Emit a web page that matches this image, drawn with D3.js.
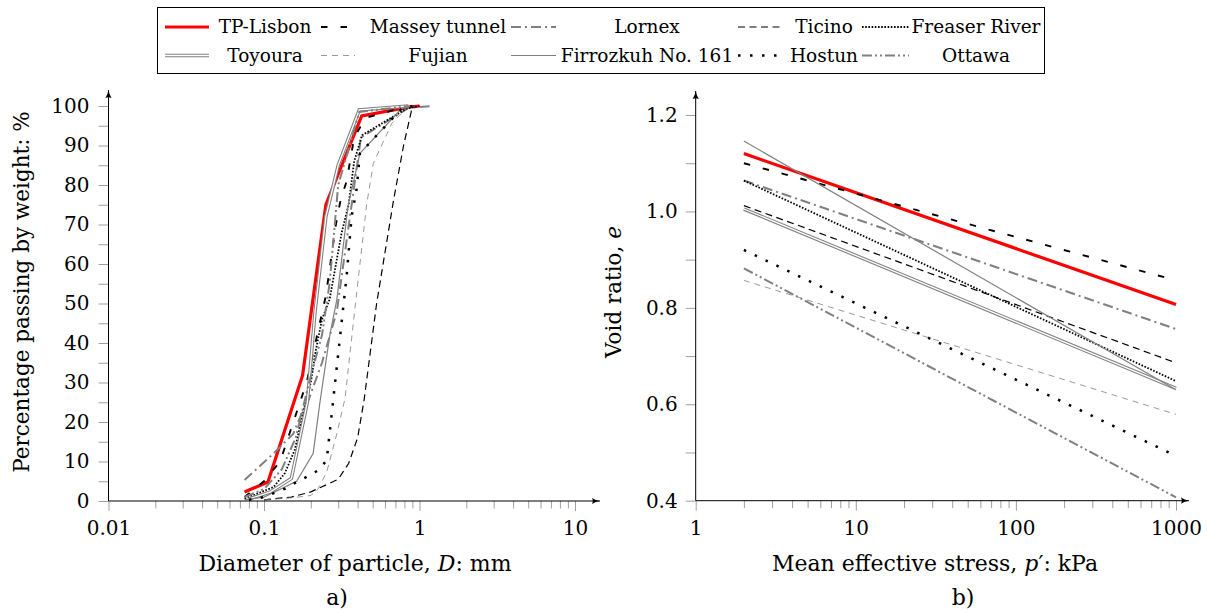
<!DOCTYPE html>
<html>
<head>
<meta charset="utf-8">
<script src="https://cdn.jsdelivr.net/npm/d3@7"></script>
<style>
    body { margin: 0; background: #fff; }
    svg text { font-family: "DejaVu Serif", serif; fill: #000; }
</style>
</head>
<body>
<div id="chart"></div>
<script>
// Sands shown in both plots, in legend order
var sandNames = ["TP-Lisbon", "Massey tunnel", "Lornex", "Ticino", "Freaser River",
                 "Toyoura", "Fujian", "Firrozkuh No. 161", "Hostun", "Ottawa"];

// a) grading curves: particle diameter (mm) and percentage passing (%)
var dTPLisbon = [0.075, 0.106, 0.177, 0.25, 0.425, 0.85, 1.0];
var pTPLisbon = [2.3, 4.8, 31.8, 75, 97.5, 99.7, 100];
var dMassey = [0.075, 0.1, 0.127, 0.188, 0.25, 0.29, 0.31, 0.34, 0.38, 0.45, 0.85];
var pMassey = [1, 5, 10, 30, 52, 70, 76, 81, 92, 97, 100];
var dLornex = [0.075, 0.115, 0.154, 0.174, 0.193, 0.236, 0.294, 0.34, 0.366, 0.42, 0.85, 1.2];
var pLornex = [5.3, 12, 17, 22, 25.5, 35, 48, 66, 75, 92, 99.5, 100];
var dTicino = [0.1, 0.15, 0.2, 0.3, 0.35, 0.4, 0.44, 0.53, 0.68, 0.79, 0.89, 0.95];
var pTicino = [0.3, 1, 2.3, 5.5, 9.5, 16, 25.5, 50, 76, 90, 99, 100];
var dFreaser = [0.075, 0.115, 0.136, 0.158, 0.175, 0.2, 0.215, 0.236, 0.264, 0.316, 0.35, 0.38, 0.427, 0.83, 1.0];
var pFreaser = [0.6, 3.5, 7, 13, 21, 30, 38, 46, 51, 68, 75, 86, 92.6, 99.4, 100];
var dToyoura = [0.08, 0.11, 0.15, 0.19, 0.213, 0.25, 0.3, 0.41, 0.85];
var pToyoura = [0.5, 2.3, 5.7, 25, 48, 72, 85, 99, 100];
var dFujian = [0.1, 0.15, 0.2, 0.223, 0.253, 0.294, 0.332, 0.385, 0.457, 0.505, 0.663, 0.85];
var pFujian = [0.3, 0.8, 1.4, 3.1, 7.3, 17, 26, 49, 75, 85.5, 95.6, 100];
var dFirrozkuh = [0.075, 0.1, 0.162, 0.207, 0.229, 0.265, 0.294, 0.348, 0.414, 0.77, 0.9];
var pFirrozkuh = [0.3, 1, 5, 12, 25, 42, 51, 75, 88, 99.4, 100];
var dHostun = [0.08, 0.1, 0.136, 0.162, 0.188, 0.224, 0.253, 0.34, 0.366, 0.394, 0.414, 0.77, 0.9];
var pHostun = [0.3, 1, 3.1, 4.8, 6.1, 7.8, 10.3, 57, 72, 79, 88, 99.4, 100];
var dOttawa = [0.075, 0.1, 0.13, 0.16, 0.195, 0.236, 0.264, 0.3, 0.41, 0.85];
var pOttawa = [1, 3, 8, 16, 30, 42, 55, 80, 98.5, 100];

// b) critical state lines: void ratio at p' = 2 kPa and p' = 1000 kPa
var stressRange = [2, 1000];
var eAtStart = [1.12, 1.10, 1.064, 1.012, 1.064, 1.005, 0.857, 1.146, 0.92, 0.882];
var eAtEnd   = [0.807, 0.857, 0.756, 0.686, 0.648, 0.633, 0.579, 0.63, 0.493, 0.407];

// tick labels
var diamTicks = [0.01, 0.1, 1, 10];
var diamTickLabels = ["0.01", "0.1", "1", "10"];
var stressTicks = [1, 10, 100, 1000];
var stressTickLabels = ["1", "10", "100", "1000"];

// line styles, by legend position
var sandStyles = [
    { color: "#ff0000", width: 3.2, dash: null },
    { color: "#000", width: 1.9, dash: "6.5,13" },
    { color: "#808080", width: 2, dash: "10,4,2,4" },
    { color: "#000", width: 1.2, dash: "7,4.5" },
    { color: "#000", width: 1.8, dash: "1.6,1.6" },
    { color: "#808080", width: 3.5, dash: null, double: true },
    { color: "#808080", width: 0.8, dash: "6,5" },
    { color: "#808080", width: 1.2, dash: null },
    { color: "#000", width: 2.5, dash: "2.5,9.5" },
    { color: "#808080", width: 2, dash: "10,3,2,3,2,3" }
];

function whenDocumentLoaded(action) {
    if (document.readyState === "loading") {
        document.addEventListener("DOMContentLoaded", action);
    } else {
        action();
    }
}

function styledPath(g, d, style) {
    var p = g.append("path")
        .attr("d", d)
        .attr("fill", "none")
        .attr("stroke", style.color)
        .attr("stroke-width", style.width);
    if (style.dash) p.attr("stroke-dasharray", style.dash);
    if (style.double) {
        // double line: gray outer stroke with white core
        g.append("path")
            .attr("d", d)
            .attr("fill", "none")
            .attr("stroke", "#fff")
            .attr("stroke-width", 1.3);
    }
}

function minorLogTicks(from, to) {
    var ticks = [];
    for (var dec = from; dec < to; dec *= 10) {
        for (var m = 2; m <= 9; m++) ticks.push(m * dec);
    }
    return ticks;
}

function styleAxis(g) {
    g.select(".domain").remove();
    g.selectAll(".tick line").attr("stroke", "#a0a0a0");
    g.selectAll(".tick text").attr("font-size", 20);
}

function drawChart() {
    var width = 1207, height = 612;
    var svg = d3.select("#chart").append("svg")
        .attr("width", width)
        .attr("height", height);

    svg.append("defs").append("marker")
        .attr("id", "arrow")
        .attr("markerUnits", "userSpaceOnUse")
        .attr("viewBox", "0 -5 10 10")
        .attr("refX", 9).attr("refY", 0)
        .attr("markerWidth", 9).attr("markerHeight", 9)
        .attr("orient", "auto")
        .append("path")
        .attr("d", "M0,-3.5 Q4,-0.8 9,0 Q4,0.8 0,3.5 Q2,0 0,-3.5 Z")
        .attr("fill", "#000");

    var grading = [
        [dTPLisbon, pTPLisbon], [dMassey, pMassey], [dLornex, pLornex], [dTicino, pTicino],
        [dFreaser, pFreaser], [dToyoura, pToyoura], [dFujian, pFujian],
        [dFirrozkuh, pFirrozkuh], [dHostun, pHostun], [dOttawa, pOttawa]
    ];

    // ---------- a) grading curves ----------
    var xL = d3.scaleLog().domain([0.01, 10]).range([108.5, 575]);
    var yL = d3.scaleLinear().domain([0, 100]).range([501, 106]);

    var gA = svg.append("g");
    gA.append("g").attr("transform", "translate(0," + yL(0) + ")")
        .call(d3.axisBottom(xL).tickValues(minorLogTicks(0.01, 10)).tickSize(7.5).tickFormat(""))
        .call(styleAxis);
    gA.append("g").attr("transform", "translate(0," + yL(0) + ")")
        .call(d3.axisBottom(xL).tickValues(diamTicks).tickSize(10).tickPadding(10)
            .tickFormat(function(d, i) { return diamTickLabels[i]; }))
        .call(styleAxis);
    gA.append("g").attr("transform", "translate(" + xL(0.01) + ",0)")
        .call(d3.axisLeft(yL).tickValues(d3.range(0, 101, 5)).tickSize(10).tickPadding(9)
            .tickFormat(function(d) { return d % 10 === 0 ? d : ""; }))
        .call(styleAxis);

    var lineA = d3.line()
        .x(function(d) { return xL(d[0]); })
        .y(function(d) { return yL(d[1]); });
    grading.forEach(function(s, i) {
        var pts = s[0].map(function(d, j) { return [d, s[1][j]]; });
        styledPath(gA, lineA(pts), sandStyles[i]);
    });

    // axis lines with arrows
    gA.append("line").attr("x1", xL(0.01)).attr("y1", yL(0)).attr("x2", 600).attr("y2", yL(0))
        .attr("stroke", "#000").attr("stroke-width", 1).attr("marker-end", "url(#arrow)");
    gA.append("line").attr("x1", xL(0.01)).attr("y1", yL(0)).attr("x2", xL(0.01)).attr("y2", 90)
        .attr("stroke", "#000").attr("stroke-width", 1).attr("marker-end", "url(#arrow)");

    var xLab = gA.append("text").attr("x", 355).attr("y", 571)
        .attr("text-anchor", "middle").attr("font-size", 22);
    xLab.append("tspan").text("Diameter of particle, ");
    xLab.append("tspan").attr("font-style", "italic").text("D");
    xLab.append("tspan").text(": mm");
    gA.append("text").attr("transform", "translate(29,292) rotate(-90)")
        .attr("text-anchor", "middle").attr("font-size", 21.5)
        .text("Percentage passing by weight: %");
    gA.append("text").attr("x", 337).attr("y", 605)
        .attr("text-anchor", "middle").attr("font-size", 22).text("a)");

    // ---------- b) void ratio vs mean effective stress ----------
    var xR = d3.scaleLog().domain([1, 1000]).range([695.7, 1176]);
    var yR = d3.scaleLinear().domain([0.4, 1.2]).range([500.7, 115]);

    var gB = svg.append("g");
    gB.append("g").attr("transform", "translate(0," + yR(0.4) + ")")
        .call(d3.axisBottom(xR).tickValues(minorLogTicks(1, 1000)).tickSize(7.5).tickFormat(""))
        .call(styleAxis);
    gB.append("g").attr("transform", "translate(0," + yR(0.4) + ")")
        .call(d3.axisBottom(xR).tickValues(stressTicks).tickSize(10).tickPadding(10)
            .tickFormat(function(d, i) { return stressTickLabels[i]; }))
        .call(styleAxis);
    gB.append("g").attr("transform", "translate(" + xR(1) + ",0)")
        .call(d3.axisLeft(yR).tickValues(d3.range(4, 13).map(function(v) { return v / 10; }))
            .tickSize(10).tickPadding(8)
            .tickFormat(function(d) { return Math.round(d * 10) % 2 === 0 ? d3.format(".1f")(d) : ""; }))
        .call(styleAxis);

    var lineB = d3.line()
        .x(function(d) { return xR(d[0]); })
        .y(function(d) { return yR(d[1]); });
    sandNames.forEach(function(name, i) {
        var pts = [[stressRange[0], eAtStart[i]], [stressRange[1], eAtEnd[i]]];
        styledPath(gB, lineB(pts), sandStyles[i]);
    });

    gB.append("line").attr("x1", xR(1)).attr("y1", yR(0.4)).attr("x2", 1189).attr("y2", yR(0.4))
        .attr("stroke", "#000").attr("stroke-width", 1).attr("marker-end", "url(#arrow)");
    gB.append("line").attr("x1", xR(1)).attr("y1", yR(0.4)).attr("x2", xR(1)).attr("y2", 91)
        .attr("stroke", "#000").attr("stroke-width", 1).attr("marker-end", "url(#arrow)");

    var xLabB = gB.append("text").attr("x", 935).attr("y", 571)
        .attr("text-anchor", "middle").attr("font-size", 22);
    xLabB.append("tspan").text("Mean effective stress, ");
    xLabB.append("tspan").attr("font-style", "italic").text("p");
    xLabB.append("tspan").text("\u2032: kPa");
    var yLabB = gB.append("text").attr("transform", "translate(621,292) rotate(-90)")
        .attr("text-anchor", "middle").attr("font-size", 21.5);
    yLabB.append("tspan").text("Void ratio, ");
    yLabB.append("tspan").attr("font-style", "italic").text("e");
    gB.append("text").attr("x", 963).attr("y", 605)
        .attr("text-anchor", "middle").attr("font-size", 22).text("b)");

    // ---------- legend ----------
    var legCols = [[165, 209, 265], [321, 355, 438], [511, 556, 647], [738, 782, 824], [862, 909, 976]];
    var legRows = [27, 55.5];
    var gL = svg.append("g");
    gL.append("rect").attr("x", 157.5).attr("y", 7.5).attr("width", 887).attr("height", 66)
        .attr("fill", "#fff").attr("stroke", "#000").attr("stroke-width", 1);
    sandNames.forEach(function(name, i) {
        var col = legCols[i % 5], y = legRows[Math.floor(i / 5)];
        styledPath(gL, "M" + col[0] + "," + y + "H" + col[1], sandStyles[i]);
        gL.append("text").attr("x", col[2]).attr("y", y + 6)
            .attr("text-anchor", "middle").attr("font-size", 18.5).text(name);
    });
}

whenDocumentLoaded(() => {
    drawChart();
});
</script>
</body>
</html>
